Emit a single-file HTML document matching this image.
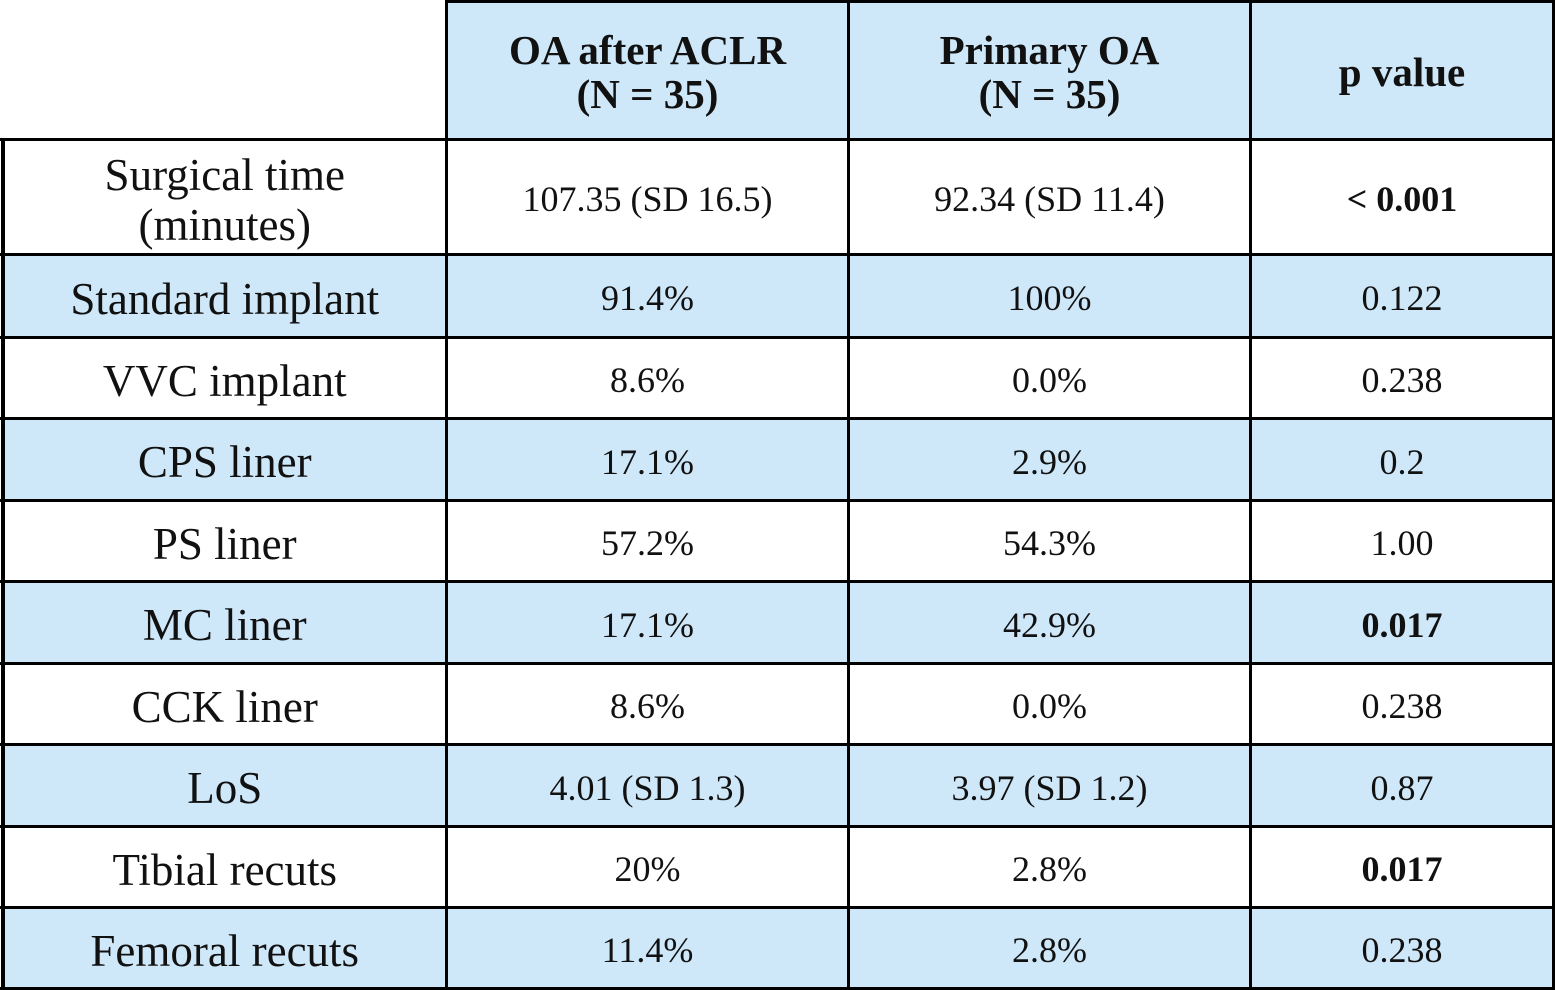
<!DOCTYPE html>
<html><head><meta charset="utf-8"><style>
body{margin:0;width:1555px;height:990px;background:#fff;position:relative;overflow:hidden;font-family:"Liberation Serif",serif;color:#111}
.c{position:absolute;display:flex;align-items:center;justify-content:center;text-align:center;line-height:1.2;box-sizing:border-box;padding-top:6px}
.l{position:absolute;background:#000}
.h{font-weight:bold;font-size:41px;line-height:1.05;padding-top:4px}
.n{font-size:36px}
.t{font-size:45px;line-height:1.12}
.b{font-weight:bold}
</style></head><body>
<div id="g"></div>
<script>
const X=[3,446.5,848.5,1250.5,1553.5];
const Y=[139.5,254.5,337,418.5,500,581.5,663,744.5,826,907.5,988.5];
const rows=[
["Surgical time<br>(minutes)","107.35 (SD 16.5)","92.34 (SD 11.4)","< 0.001",1],
["Standard implant","91.4%","100%","0.122",0],
["VVC implant","8.6%","0.0%","0.238",0],
["CPS liner","17.1%","2.9%","0.2",0],
["PS liner","57.2%","54.3%","1.00",0],
["MC liner","17.1%","42.9%","0.017",1],
["CCK liner","8.6%","0.0%","0.238",0],
["LoS","4.01 (SD 1.3)","3.97 (SD 1.2)","0.87",0],
["Tibial recuts","20%","2.8%","0.017",1],
["Femoral recuts","11.4%","2.8%","0.238",0]];
let h="";
const blue="#cfe8f9";
h+=`<div class="c" style="left:${X[1]}px;top:1.5px;width:${X[4]-X[1]}px;height:138px;background:${blue}"></div>`;
const hd=["OA after ACLR<br>(N = 35)","Primary OA<br>(N = 35)","p value"];
for(let i=0;i<3;i++)h+=`<div class="c h" style="left:${X[i+1]}px;top:1.5px;width:${X[i+2]-X[i+1]}px;height:138px">${hd[i]}</div>`;
rows.forEach((r,j)=>{
 const y0=Y[j],y1=Y[j+1];
 const bg=j%2?blue:"#fff";
 h+=`<div style="position:absolute;left:${X[0]}px;top:${y0}px;width:${X[4]-X[0]}px;height:${y1-y0}px;background:${bg}"></div>`;
 for(let i=0;i<4;i++){
  const cls=i==0?"t":"n"+(i==3&&r[4]?" b":"");
  h+=`<div class="c ${cls}" style="left:${X[i]}px;top:${y0}px;width:${X[i+1]-X[i]}px;height:${y1-y0}px">${r[i]}</div>`;
 }
});
h+=`<div class="l" style="left:${X[1]-1.5}px;top:0;width:${X[4]-X[1]+3}px;height:3px"></div>`;
Y.forEach(y=>h+=`<div class="l" style="left:0px;top:${y-1.5}px;width:1555px;height:3px"></div>`);
X.forEach((x,i)=>{const t=i==0?Y[0]-1.5:0;h+=`<div class="l" style="left:${x-2}px;top:${t}px;width:${i==0?4:3}px;height:${990-t}px"></div>`;});
document.getElementById("g").innerHTML=h;
</script>
</body></html>
